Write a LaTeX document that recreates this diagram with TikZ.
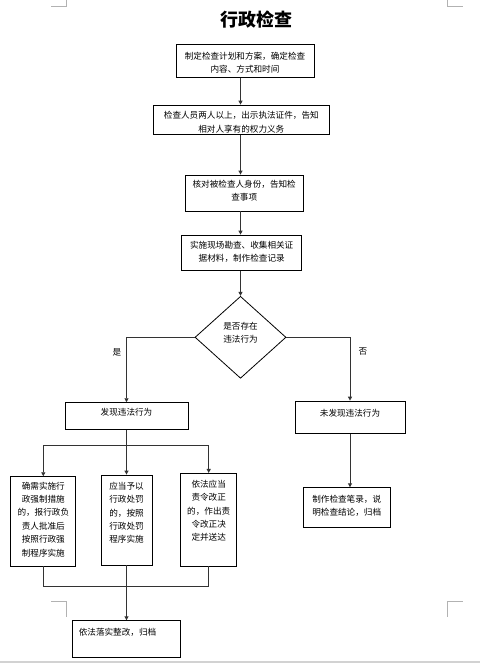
\documentclass[tikz,border=0pt]{standalone}
\usepackage{fontspec}
\setmainfont{Noto Sans CJK SC}
\usepackage{tikz}
\usetikzlibrary{shapes.geometric,arrows.meta}
% text block of a box: width, height, first baseline, lines
\newcommand{\flowtext}[4]{\parbox[c][#2pt][t]{#1pt}{\centering\rule{0pt}{#3pt}#4}}

\begin{document}
\begin{tikzpicture}[x=1pt,y=-1pt,
  flowbox/.style={draw,line width=0.8pt,inner sep=0pt,font=\fontsize{8.6}{13.4}\selectfont},
  arr/.style={-{Triangle[length=4pt,width=4pt]},line width=0.9pt,draw=black!80},
  link/.style={line width=0.9pt,draw=black!80},
  cropmark/.style={draw=gray!60,line width=0.8pt}]
\useasboundingbox (0,0) rectangle (480,663);

% title
\node[font=\fontsize{18}{18}\selectfont\bfseries] (title) at (256,20) {行政检查};

% main column
\node[flowbox] (plan) at (245,60.8) {\flowtext{138}{33}{14.9}{制定检查计划和方案，确定检查\\内容、方式和时间}};
\node[flowbox] (staff) at (241.3,119.7) {\flowtext{176}{29.3}{13.9}{检查人员两人以上，出示执法证件，告知\\相对人享有的权力义务}};
\node[flowbox] (verify) at (244.2,193) {\flowtext{118}{36}{12.5}{核对被检查人身份，告知检\\查事项}};
\node[flowbox] (survey) at (241.7,252.9) {\flowtext{120}{35.7}{13.2}{实施现场勘查、收集相关证\\据材料，制作检查记录}};
\node[flowbox,diamond,minimum width=91pt,minimum height=82pt] (dia) at (240.5,337.3)
  {\flowtext{40}{32}{8}{是否存在\\违法行为}};

\draw[arr] (plan.south -| dia) -- (staff.north -| dia);
\draw[arr] (staff.south -| dia) -- (verify.north -| dia);
\draw[arr] (verify.south -| dia) -- (survey.north -| dia);
\draw[arr] (survey.south -| dia) -- (dia.north);

% yes / no
\node[font=\fontsize{8.6}{10}\selectfont] (yes) at (117,352) {是};
\node[font=\fontsize{8.6}{10}\selectfont] (no) at (363,351) {否};

\node[flowbox] (found) at (126.5,416) {\flowtext{123}{26.7}{12.8}{发现违法行为}};
\node[flowbox] (notfound) at (350,417.2) {\flowtext{110}{32.3}{15.2}{未发现违法行为}};
\draw[arr] (dia.west) -| (found.north);
\draw[arr] (dia.east) -| (notfound.north);

% three ways
\node[flowbox] (coerce) at (43.3,521.3) {\flowtext{65}{89.3}{12.5}{确需实施行\\政强制措施\\的，报行政负\\责人批准后\\按照行政强\\制程序实施}};
\node[flowbox] (punish) at (126.5,520) {\flowtext{51}{90}{14.2}{应当予以\\行政处罚\\的，按照\\行政处罚\\程序实施}};
\node[flowbox] (correct) at (208.7,519.7) {\flowtext{56}{92.7}{13.9}{依法应当\\责令改正\\的，作出责\\令改正决\\定并送达}};

\coordinate (fork) at (126.5,445);
\draw[link] (found.south) -- (fork);
\draw[arr] (fork) -| (coerce.north);
\draw[arr] (fork) -| (correct.north);
\draw[arr] (fork) -- (punish.north);

\node[flowbox] (archive) at (126.5,639) {\parbox[c][36.6pt][t]{107.4pt}{\hspace*{6pt}\rule{0pt}{14.5pt}依法落实整改，归档}};
\coordinate (join) at (126.5,586.7);
\draw[link] (coerce.south) |- (join);
\draw[link] (correct.south) |- (join);
\draw[link] (punish.south) -- (join);
\draw[arr] (join) -- (archive.north);

% no violation
\node[flowbox] (record) at (346.7,507.5) {\flowtext{86.7}{39.6}{14.5}{制作检查笔录，说\\明检查结论，归档}};
\draw[arr] (notfound.south) -- (notfound.south |- record.north);

% page marks
\draw[cropmark] (51,6) -- (66.7,6) -- (66.7,0);
\draw[cropmark] (447.3,0) -- (447.3,6) -- (462.7,6);
\draw[cropmark] (51,601.7) -- (66.7,601.7) -- (66.7,616.7);
\draw[cropmark] (462.7,601.7) -- (447.3,601.7) -- (447.3,616.7);
\draw[draw=gray!35,line width=1.5pt] (0,662) -- (480,662);
\end{tikzpicture}
\end{document}
